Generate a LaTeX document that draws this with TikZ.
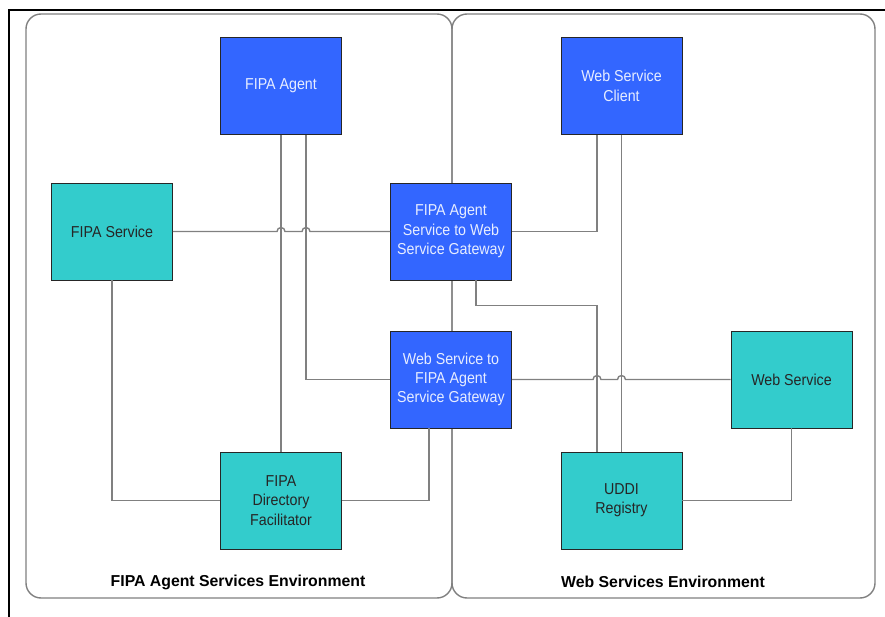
\documentclass[tikz,border=0pt]{standalone}
\usepackage{fontspec}
\setmainfont{Liberation Sans}
\newfontfamily\boxfont[FakeStretch=0.9]{Liberation Sans}
\usepackage{xcolor}
\usepackage{tikz}
\usetikzlibrary{calc,backgrounds}
\definecolor{agentblue}{RGB}{51,102,255}
\definecolor{svcteal}{RGB}{51,204,204}
\definecolor{linegray}{RGB}{128,128,128}

\begin{document}
\begin{tikzpicture}[x=0.03cm, y=-0.03cm,
  bx/.style={rectangle, draw=black!85, line width=0.7pt, minimum width=3.63cm, minimum height=2.91cm,
    inner sep=0pt, align=center, font=\boxfont\fontsize{13.5}{16.5}\selectfont},
  ag/.style={bx, fill=agentblue, text=white!88!agentblue},
  sv/.style={bx, fill=svcteal, text=black!85},
  env/.style={draw=linegray, line width=1.2pt, rounded corners=0.45cm},
  ln/.style={draw=linegray, line width=1.2pt},
  lbl/.style={font=\bfseries\fontsize{13.5}{16}\selectfont}]
\useasboundingbox (0,0) rectangle (885,617);
\draw[line width=1.6pt] (9,617) -- (9,10) -- (885,10);
\node[ag] (agent) at (281,86) {FIPA Agent};
\node[ag] (wsclient) at (621.5,86) {Web Service\\Client};
\node[sv] (fipasvc) at (112,231.5) {FIPA Service};
\node[ag] (gwout) at (451,231.5) {FIPA Agent\\Service to Web\\Service Gateway};
\node[ag] (gwin) at (451,379.5) {Web Service to\\FIPA Agent\\Service Gateway};
\node[sv] (websvc) at (791.5,379.5) {Web Service};
\node[sv] (df) at (281,500.5) {FIPA\\Directory\\Facilitator};
\node[sv] (uddi) at (621.5,500.5) {UDDI\\Registry};
\node[lbl] (fipalbl) at (238,582) {FIPA Agent Services Environment};
\node[lbl] (wslbl) at (663,582) {Web Services Environment};
\begin{scope}[on background layer]
\draw[env] (26,14) rectangle (452,598);
\draw[env] (452,14) rectangle (875,598);
\end{scope}
\draw[ln] (agent.south) -- (df.north);
\draw[ln] ($(agent.south)+(25,0)$) |- (gwin.west);
\draw[ln] (fipasvc.south) |- (df.west);
\draw[ln] ($(gwin.south)+(-22,0)$) |- (df.east);
\draw[ln] ($(wsclient.south)+(-24.5,0)$) |- (gwout.east);
\draw[ln] (wsclient.south) -- (uddi.north);
\draw[ln] ($(gwout.south)+(25,0)$) -- ++(0,25) -| ($(uddi.north)+(-24.5,0)$);
\draw[ln] (websvc.south) |- (uddi.east);
\draw[ln] (fipasvc.east) -- ($(fipasvc.east -| agent.south)+(-4,0)$)
  arc[start angle=180, end angle=0, radius=0.12cm]
  -- ($(fipasvc.east -| agent.south)+(21,0)$)
  arc[start angle=180, end angle=0, radius=0.12cm] -- (gwout.west);
\draw[ln] (gwin.east) -- ($(gwin.east -| uddi.north)+(-28.5,0)$)
  arc[start angle=180, end angle=0, radius=0.12cm]
  -- ($(gwin.east -| uddi.north)+(-4,0)$)
  arc[start angle=180, end angle=0, radius=0.12cm] -- (websvc.west);
\end{tikzpicture}
\end{document}
